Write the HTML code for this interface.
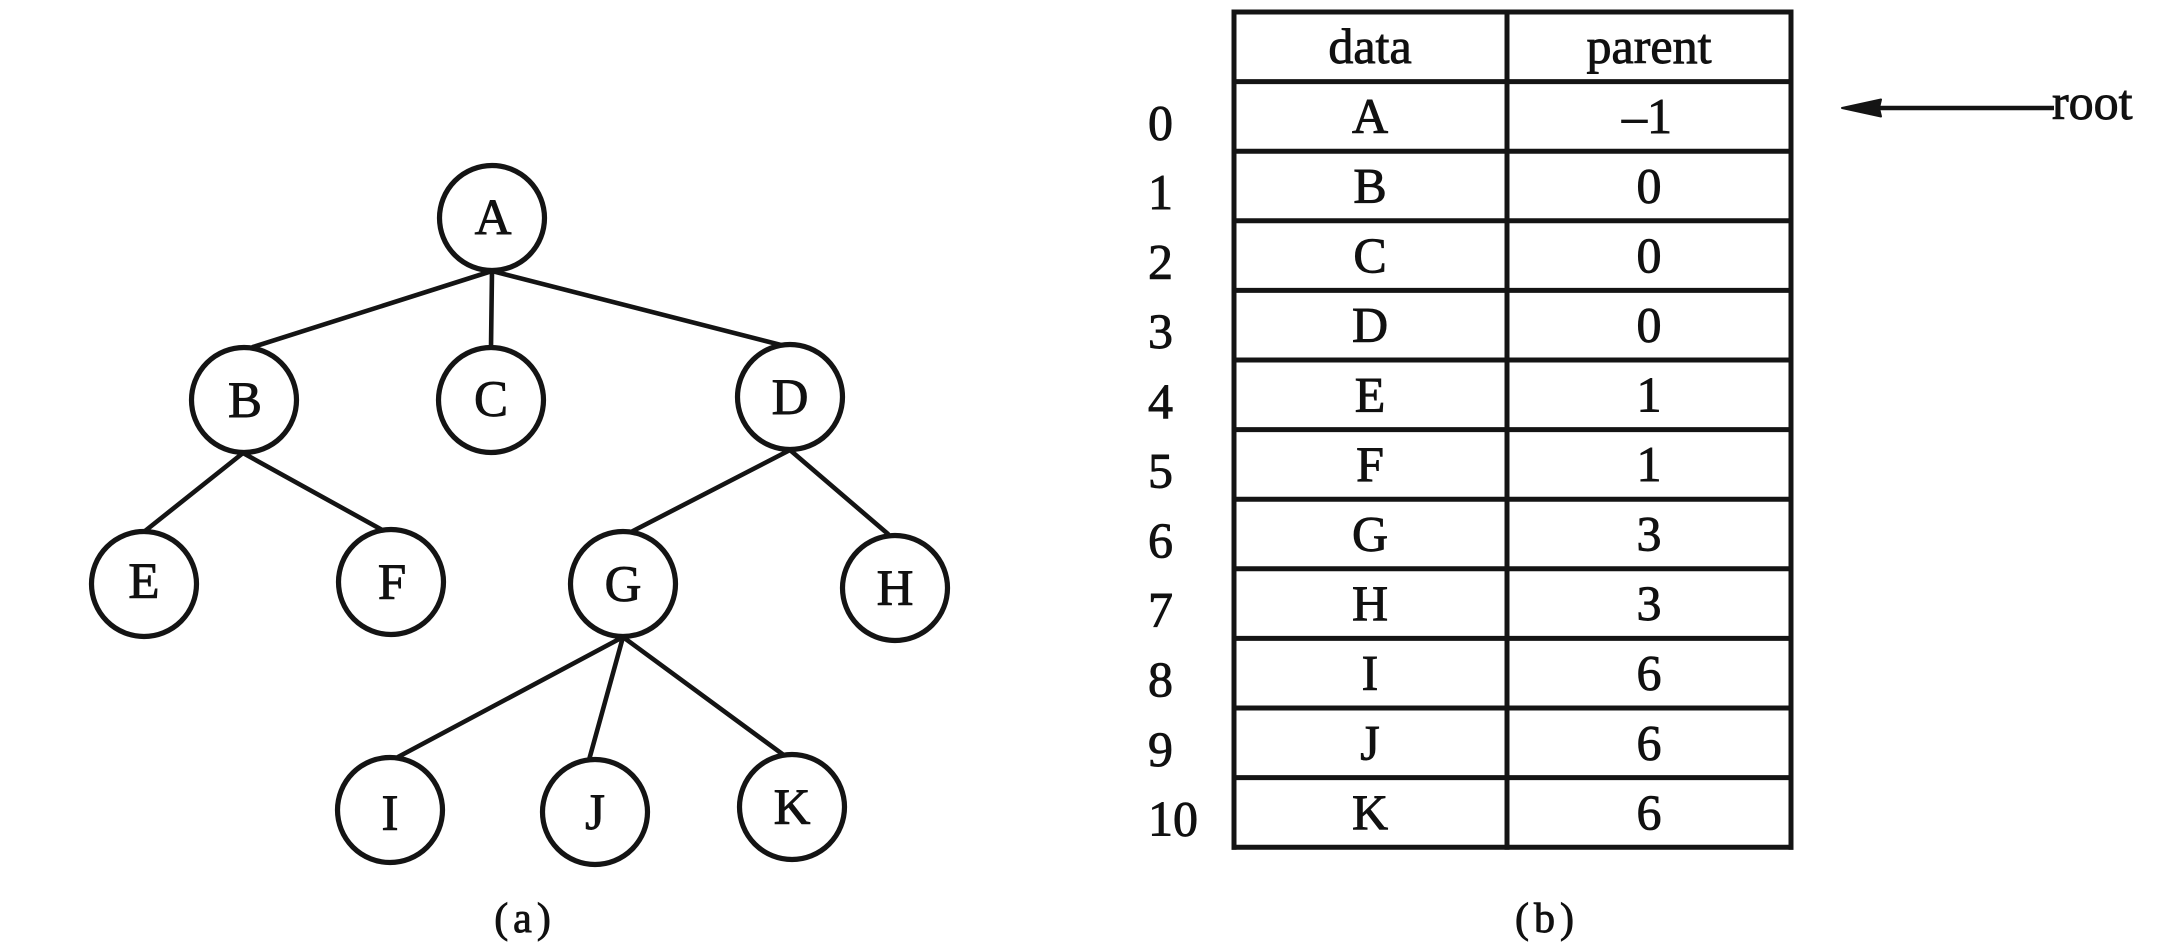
<!DOCTYPE html>
<html>
<head>
<meta charset="utf-8">
<style>
  html, body { margin: 0; padding: 0; background: #ffffff; }
  body { width: 2169px; height: 948px; overflow: hidden; }
  svg { display: block; }
  text { font-family: "Liberation Serif", "Noto Serif CJK SC", serif; fill: #111; stroke: #111; stroke-width: 0.9; }
</style>
</head>
<body>
<svg width="2169" height="948" viewBox="0 0 2169 948" xmlns="http://www.w3.org/2000/svg">
  <rect x="0" y="0" width="2169" height="948" fill="#ffffff"/>

  <!-- ===== (a) tree edges ===== -->
  <g stroke="#141414" stroke-width="4.6" stroke-linecap="round" fill="none">
    <line x1="492" y1="271" x2="253" y2="347"/>
    <line x1="492" y1="271" x2="491" y2="347"/>
    <line x1="492" y1="271" x2="781" y2="345"/>
    <line x1="243" y1="453" x2="145" y2="531"/>
    <line x1="243" y1="453" x2="384" y2="531"/>
    <line x1="790" y1="450" x2="631" y2="532"/>
    <line x1="790" y1="450" x2="888" y2="534"/>
    <line x1="623" y1="637" x2="398" y2="757"/>
    <line x1="623" y1="637" x2="589" y2="760"/>
    <line x1="623" y1="637" x2="785" y2="756"/>
  </g>

  <!-- ===== (a) tree nodes ===== -->
  <g stroke="#141414" stroke-width="5.2" fill="#ffffff">
    <circle cx="492" cy="218" r="52.5"/>
    <circle cx="244" cy="400" r="52.5"/>
    <circle cx="491" cy="400" r="52.5"/>
    <circle cx="790" cy="397" r="52.5"/>
    <circle cx="144" cy="584" r="52.5"/>
    <circle cx="391" cy="582" r="52.5"/>
    <circle cx="623" cy="584" r="52.5"/>
    <circle cx="895" cy="588" r="52.5"/>
    <circle cx="390" cy="810" r="52.5"/>
    <circle cx="595" cy="812" r="52.5"/>
    <circle cx="792" cy="807" r="52.5"/>
  </g>
  <g font-size="51" text-anchor="middle">
    <text x="493" y="234">A</text>
    <text x="245" y="417">B</text>
    <text x="491" y="416">C</text>
    <text x="790" y="414">D</text>
    <text x="144" y="598">E</text>
    <text x="392" y="599">F</text>
    <text x="623" y="601">G</text>
    <text x="895" y="605">H</text>
    <text x="390" y="830">I</text>
    <text x="595" y="829">J</text>
    <text x="792" y="824">K</text>
  </g>
  <text x="525" y="932" font-size="42" text-anchor="middle" letter-spacing="5">(a)</text>

  <!-- ===== (b) table ===== -->
  <g stroke="#141414" stroke-width="5" stroke-linecap="square">
    <line x1="1234" y1="12" x2="1791" y2="12"/>
    <line x1="1234" y1="81.6" x2="1791" y2="81.6"/>
    <line x1="1234" y1="151.2" x2="1791" y2="151.2"/>
    <line x1="1234" y1="220.8" x2="1791" y2="220.8"/>
    <line x1="1234" y1="290.4" x2="1791" y2="290.4"/>
    <line x1="1234" y1="360" x2="1791" y2="360"/>
    <line x1="1234" y1="429.6" x2="1791" y2="429.6"/>
    <line x1="1234" y1="499.2" x2="1791" y2="499.2"/>
    <line x1="1234" y1="568.8" x2="1791" y2="568.8"/>
    <line x1="1234" y1="638.4" x2="1791" y2="638.4"/>
    <line x1="1234" y1="708" x2="1791" y2="708"/>
    <line x1="1234" y1="777.6" x2="1791" y2="777.6"/>
    <line x1="1234" y1="847.2" x2="1791" y2="847.2"/>
    <line x1="1234" y1="12" x2="1234" y2="847.2"/>
    <line x1="1507" y1="12" x2="1507" y2="847.2"/>
    <line x1="1791" y1="12" x2="1791" y2="847.2"/>
  </g>

  <g font-size="50" text-anchor="middle">
    <text x="1370" y="63">data</text>
    <text x="1649" y="63">parent</text>

    <text x="1370" y="132.9">A</text>
    <text x="1370" y="202.5">B</text>
    <text x="1370" y="272.1">C</text>
    <text x="1370" y="341.7">D</text>
    <text x="1370" y="411.3">E</text>
    <text x="1370" y="480.9">F</text>
    <text x="1370" y="550.5">G</text>
    <text x="1370" y="620.1">H</text>
    <text x="1370" y="689.7">I</text>
    <text x="1370" y="759.3">J</text>
    <text x="1370" y="828.9">K</text>

    <text x="1647" y="132.9">–1</text>
    <text x="1649" y="202.5">0</text>
    <text x="1649" y="272.1">0</text>
    <text x="1649" y="341.7">0</text>
    <text x="1649" y="411.3">1</text>
    <text x="1649" y="480.9">1</text>
    <text x="1649" y="550.5">3</text>
    <text x="1649" y="620.1">3</text>
    <text x="1649" y="689.7">6</text>
    <text x="1649" y="759.3">6</text>
    <text x="1649" y="828.9">6</text>
  </g>

  <g font-size="50" text-anchor="start">
    <text x="1148" y="139.4">0</text>
    <text x="1148" y="209">1</text>
    <text x="1148" y="278.6">2</text>
    <text x="1148" y="348.2">3</text>
    <text x="1148" y="417.8">4</text>
    <text x="1148" y="487.4">5</text>
    <text x="1148" y="557">6</text>
    <text x="1148" y="626.6">7</text>
    <text x="1148" y="696.2">8</text>
    <text x="1148" y="765.8">9</text>
    <text x="1148" y="835.4">10</text>
  </g>

  <!-- root arrow -->
  <line x1="1876" y1="108" x2="2054" y2="108" stroke="#141414" stroke-width="4.5"/>
  <polygon points="1842,108 1881,99.5 1879,108 1881,116.5" fill="#141414" stroke="#141414" stroke-width="2" stroke-linejoin="round"/>
  <text x="2052" y="119" font-size="50">root</text>

  <text x="1547" y="932" font-size="42" text-anchor="middle" letter-spacing="5">(b)</text>
</svg>
</body>
</html>
